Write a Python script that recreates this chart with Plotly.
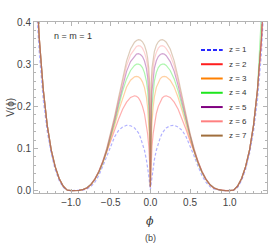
import plotly.graph_objects as go

# ---------------- data (curves are symmetric in phi) ----------------
phi_half = [0, 0.005, 0.01, 0.02, 0.035, 0.05, 0.075, 0.1, 0.125, 0.15, 0.175, 0.2,
            0.25, 0.3, 0.35, 0.4, 0.45, 0.5, 0.55, 0.6, 0.65, 0.7, 0.75, 0.8, 0.85, 0.9, 0.95,
            1.0, 1.05, 1.1, 1.15, 1.2, 1.25, 1.3, 1.35, 1.4, 1.45, 1.5]

V_z1 = [0.002, 0.01, 0.018, 0.035, 0.057, 0.073, 0.096, 0.113, 0.126, 0.137, 0.144, 0.149,
        0.154, 0.155, 0.151, 0.143, 0.128, 0.107, 0.083, 0.058, 0.036, 0.02, 0.01, 0.004, 0.0015, 0.0004, 0.0,
        0.0, 0.001, 0.008, 0.024, 0.05, 0.088, 0.14, 0.215, 0.325, 0.48, 0.7]
V_z2 = [0.008, 0.05, 0.075, 0.105, 0.135, 0.158, 0.183, 0.2, 0.212, 0.22, 0.224, 0.225,
        0.221, 0.21, 0.193, 0.17, 0.145, 0.118, 0.092, 0.067, 0.045, 0.027, 0.014, 0.006, 0.0025, 0.0007, 0.0001,
        0.0, 0.0015, 0.011, 0.029, 0.057, 0.097, 0.155, 0.24, 0.36, 0.53, 0.78]
V_z3 = [0.01, 0.085, 0.12, 0.16, 0.198, 0.222, 0.245, 0.258, 0.266, 0.27, 0.271, 0.27,
        0.262, 0.246, 0.221, 0.19, 0.155, 0.123, 0.093, 0.065, 0.043, 0.026, 0.014, 0.0065, 0.0026, 0.0008, 0.0001,
        0.0, 0.0015, 0.011, 0.029, 0.057, 0.097, 0.155, 0.24, 0.36, 0.53, 0.78]
V_z4 = [0.01, 0.11, 0.155, 0.2, 0.238, 0.26, 0.28, 0.292, 0.298, 0.3, 0.3, 0.297,
        0.285, 0.265, 0.236, 0.2, 0.162, 0.127, 0.095, 0.066, 0.044, 0.027, 0.0145, 0.0068, 0.0027, 0.0008, 0.0001,
        0.0, 0.0015, 0.011, 0.029, 0.057, 0.097, 0.155, 0.24, 0.36, 0.53, 0.78]
V_z5 = [0.01, 0.14, 0.19, 0.235, 0.27, 0.29, 0.308, 0.318, 0.323, 0.325, 0.324, 0.32,
        0.306, 0.283, 0.249, 0.209, 0.168, 0.131, 0.097, 0.068, 0.045, 0.0275, 0.015, 0.007, 0.0028, 0.0008, 0.0001,
        0.0, 0.0015, 0.011, 0.029, 0.057, 0.097, 0.155, 0.24, 0.36, 0.53, 0.78]
V_z6 = [0.01, 0.17, 0.225, 0.265, 0.295, 0.312, 0.328, 0.338, 0.343, 0.344, 0.342, 0.337,
        0.322, 0.296, 0.259, 0.216, 0.173, 0.134, 0.099, 0.069, 0.046, 0.028, 0.015, 0.007, 0.0028, 0.0008, 0.0001,
        0.0, 0.0015, 0.011, 0.029, 0.057, 0.097, 0.155, 0.24, 0.36, 0.53, 0.78]
V_z7 = [0.01, 0.2, 0.255, 0.29, 0.315, 0.33, 0.345, 0.353, 0.357, 0.358, 0.356, 0.352,
        0.336, 0.308, 0.268, 0.222, 0.177, 0.136, 0.1, 0.07, 0.046, 0.028, 0.015, 0.007, 0.0028, 0.0008, 0.0001,
        0.0, 0.0015, 0.011, 0.029, 0.057, 0.097, 0.155, 0.24, 0.36, 0.53, 0.78]

series_names = ["z = 1", "z = 2", "z = 3", "z = 4", "z = 5", "z = 6", "z = 7"]
series_values = [V_z1, V_z2, V_z3, V_z4, V_z5, V_z6, V_z7]

x_tick_vals = [-1.0, -0.5, 0.0, 0.5, 1.0]
x_tick_text = ["\u22121.0", "\u22120.5", "0.0", "0.5", "1.0"]
y_tick_vals = [0.0, 0.1, 0.2, 0.3, 0.4]
y_tick_text = ["0.0", "0.1", "0.2", "0.3", "0.4"]

# ---------------- styles ----------------
rgb = [(40, 40, 255), (255, 30, 30), (255, 128, 0), (30, 230, 30),
       (128, 0, 128), (255, 128, 128), (160, 110, 60)]
plot_alpha = 0.36
FONT = "Liberation Sans"
FRAME = "#b4b4b4"

fig = go.Figure()
for name, vals, c in zip(series_names, series_values, rgb):
    xs = [-p for p in reversed(phi_half[1:])] + phi_half
    ys = list(reversed(vals[1:])) + vals
    fig.add_trace(go.Scatter(
        x=xs, y=ys, mode="lines", name=name, showlegend=False,
        line=dict(color="rgba(%d,%d,%d,%.2f)" % (c + (plot_alpha,)), width=1.2,
                  dash="3px,2px" if name == "z = 1" else "solid"),
        hoverinfo="skip"))

# ---------------- custom legend (paper coordinates) ----------------
L, T, W, H = 34, 22, 233, 171.3
def px(xp): return (xp - L) / W
def py(yp): return (T + H - yp) / H

shapes = []
annotations = []
for i, (name, c) in enumerate(zip(series_names, rgb)):
    yy = 50 + 14.3 * i
    shapes.append(dict(type="line", xref="paper", yref="paper",
                       x0=px(201), x1=px(222.7), y0=py(yy), y1=py(yy),
                       line=dict(color="rgb(%d,%d,%d)" % c, width=2.0,
                                 dash="4px,2px" if i == 0 else "solid")))
    annotations.append(dict(xref="paper", yref="paper", x=px(227), y=py(yy),
                            xanchor="left", yanchor="middle", showarrow=False,
                            text=name, font=dict(family=FONT, size=8, color="#333")))

annotations += [
    dict(xref="paper", yref="paper", x=px(51.5), y=py(36), xanchor="left", yanchor="middle",
         showarrow=False, text="n = m = 1", font=dict(family=FONT, size=9, color="#333")),
    dict(xref="paper", yref="paper", x=px(11), y=py(108), xanchor="center", yanchor="middle",
         showarrow=False, text="V(\u03d5)", textangle=-90, font=dict(family=FONT, size=10, color="#444")),
    dict(xref="paper", yref="paper", x=px(150), y=py(221.5), xanchor="center", yanchor="middle",
         showarrow=False, text="<i>\u03d5</i>", font=dict(family="DejaVu Serif", size=11, color="#333")),
    dict(xref="paper", yref="paper", x=px(150), y=py(238), xanchor="center", yanchor="middle",
         showarrow=False, text="(b)", font=dict(family=FONT, size=9, color="#444")),
]

axis_common = dict(showline=True, linecolor=FRAME, linewidth=1, mirror="allticks",
                   ticks="inside", ticklen=4, tickwidth=1, tickcolor=FRAME,
                   showgrid=False, zeroline=False,
                   tickfont=dict(family=FONT, size=10, color="#444"))

fig.update_layout(
    width=273, height=245,
    margin=dict(l=34, r=6, t=22, b=52),
    paper_bgcolor="white", plot_bgcolor="white",
    showlegend=False,
    xaxis=dict(range=[-1.467, 1.47], tickmode="array", tickvals=x_tick_vals, ticktext=x_tick_text,
               minor=dict(dtick=0.1, tick0=0, ticks="inside", ticklen=2, tickcolor=FRAME, showgrid=False),
               **axis_common),
    yaxis=dict(range=[-0.0055, 0.4], tickmode="array", tickvals=y_tick_vals, ticktext=y_tick_text,
               minor=dict(dtick=0.02, tick0=0, ticks="inside", ticklen=2, tickcolor=FRAME, showgrid=False),
               **axis_common),
    shapes=shapes, annotations=annotations,
)

fig.write_html("out.html", config={"displayModeBar": False},
               post_script="document.body.style.margin='0';document.body.style.padding='0';"
                           "document.documentElement.style.overflow='hidden';")
